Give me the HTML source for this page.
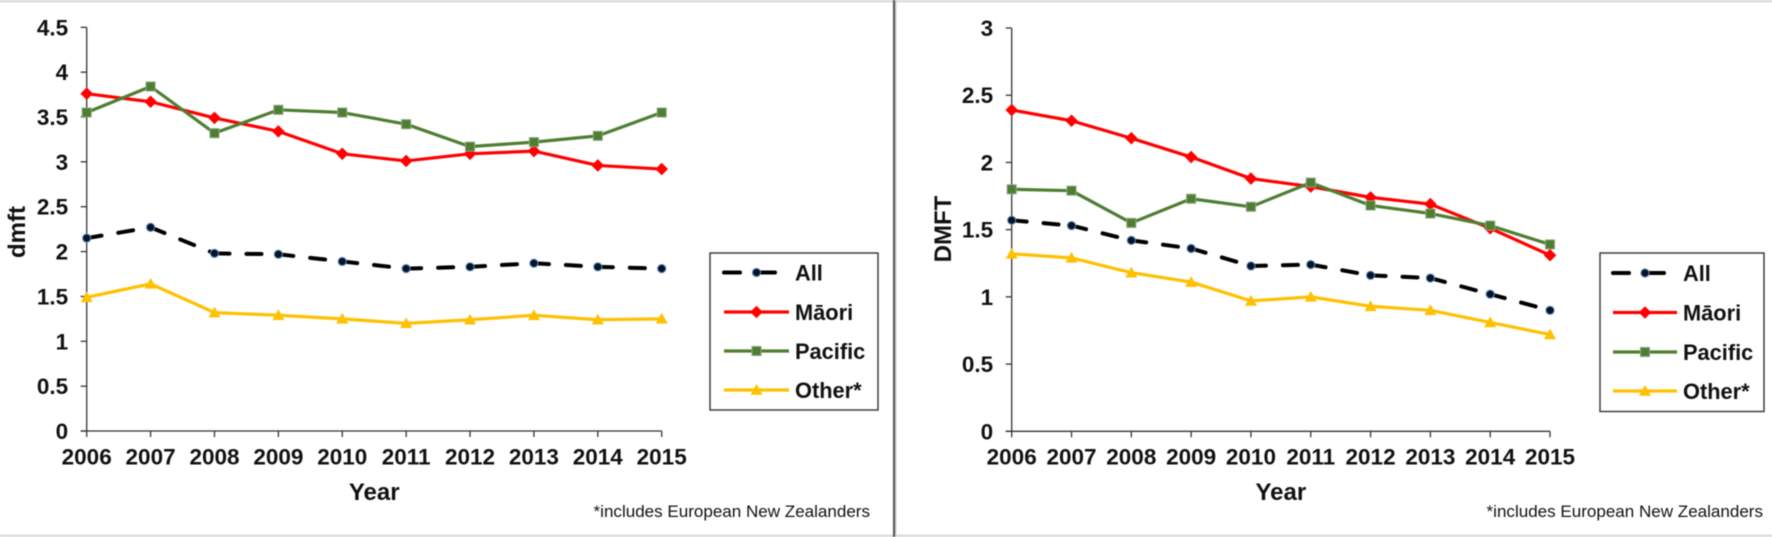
<!DOCTYPE html>
<html>
<head>
<meta charset="utf-8">
<title>dmft and DMFT by ethnicity, 2006-2015</title>
<style>
html,body{margin:0;padding:0;background:#fff;width:1772px;height:537px;overflow:hidden}
svg{display:block;filter:blur(0.45px)}
text{font-family:"Liberation Sans",sans-serif;fill:#111}
.b{font-weight:bold}
</style>
</head>
<body>
<svg id="chart" xmlns="http://www.w3.org/2000/svg" width="1772" height="537" viewBox="0 0 1772 537">
<rect x="0" y="0" width="1772" height="537" fill="#fff"/>
<rect x="0" y="0" width="1772" height="2.5" fill="#dcdcdc"/>
<rect x="0" y="534.5" width="1772" height="2.5" fill="#dcdcdc"/>
<rect x="893" y="0" width="2" height="537" fill="#555"/>
<rect x="895" y="0" width="1.5" height="537" fill="#ccc"/>
</svg>
<script>
var years = ['2006','2007','2008','2009','2010','2011','2012','2013','2014','2015'];
var seriesNames = ['All','Māori','Pacific','Other*'];

var leftTicks = ['0','0.5','1','1.5','2','2.5','3','3.5','4','4.5'];
var leftAll = [2.15,2.27,1.98,1.97,1.89,1.81,1.83,1.87,1.83,1.81];
var leftMaori = [3.76,3.67,3.49,3.34,3.09,3.01,3.09,3.12,2.96,2.92];
var leftPacific = [3.55,3.84,3.32,3.58,3.55,3.42,3.17,3.22,3.29,3.55];
var leftOther = [1.49,1.64,1.32,1.29,1.25,1.20,1.24,1.29,1.24,1.25];

var rightTicks = ['0','0.5','1','1.5','2','2.5','3'];
var rightAll = [1.57,1.53,1.42,1.36,1.23,1.24,1.16,1.14,1.02,0.90];
var rightMaori = [2.39,2.31,2.18,2.04,1.88,1.82,1.74,1.69,1.51,1.31];
var rightPacific = [1.80,1.79,1.55,1.73,1.67,1.85,1.68,1.62,1.53,1.39];
var rightOther = [1.32,1.29,1.18,1.11,0.97,1.00,0.93,0.90,0.81,0.72];

var NS = 'http://www.w3.org/2000/svg';
var svg = document.getElementById('chart');
var seriesColors = ['#000000','#ff0000','#4e7f31','#ffc000'];
var seriesKeys = ['all','maori','pacific','other'];

function make(parent, tag, attrs) {
  var el = document.createElementNS(NS, tag);
  for (var k in attrs) el.setAttribute(k, attrs[k]);
  parent.appendChild(el);
  return el;
}

function makeText(parent, str, x, y, size, anchor, bold) {
  var t = make(parent, 'text', {x: x, y: y, 'font-size': size, 'text-anchor': anchor});
  if (bold) t.setAttribute('class', 'b');
  t.textContent = str;
  return t;
}

function drawMarker(parent, idx, x, y) {
  var m;
  if (idx === 0) {
    m = make(parent, 'circle', {cx: x, cy: y, r: 4.1, fill: '#0a1428', stroke: '#5b8ec4', 'stroke-width': 1});
  } else if (idx === 1) {
    m = make(parent, 'polygon', {points: (x-6.3)+','+y+' '+x+','+(y-6.3)+' '+(x+6.3)+','+y+' '+x+','+(y+6.3), fill: '#ff0000'});
  } else if (idx === 2) {
    m = make(parent, 'rect', {x: x-4.6, y: y-4.6, width: 9.2, height: 9.2, fill: '#4e7f31', stroke: '#9aa893', 'stroke-width': 0.9});
  } else {
    m = make(parent, 'polygon', {points: (x-6)+','+(y+4.8)+' '+x+','+(y-6)+' '+(x+6)+','+(y+4.8), fill: '#ffc000'});
  }
  
  
}

function drawPanel(p) {
  var group = make(svg, 'g', {});
  
  

  function xScale(i) { return p.x0 + (p.x1 - p.x0) * i / (years.length - 1); }
  function yScale(v) { return p.y0 + (p.yTop - p.y0) * v / p.yMax; }

  var yAxis = make(group, 'line', {x1: p.x0, x2: p.x0, y1: yScale(p.yMax), y2: p.y0, stroke: '#333', 'stroke-width': 1.3});
  
  
  var xAxis = make(group, 'line', {x1: p.x0 - 6, x2: p.x1, y1: p.y0, y2: p.y0, stroke: '#333', 'stroke-width': 1.3});
  
  

  p.ticks.forEach(function (label) {
    var y = yScale(parseFloat(label));
    var tick = make(group, 'line', {x1: p.x0 - 6, x2: p.x0, y1: y, y2: y, stroke: '#333', 'stroke-width': 1.3});
    
    
    var t = makeText(group, label, p.x0 - 18.5, y + 8, 22.5, 'end', true);
    
    
  });

  years.forEach(function (label, i) {
    var x = xScale(i);
    var tick = make(group, 'line', {x1: x, x2: x, y1: p.y0, y2: p.y0 + 6, stroke: '#333', 'stroke-width': 1.3});
    
    
    var t = makeText(group, label, x, 464.5, 22.5, 'middle', true);
    
    
  });

  var yTitle = makeText(group, p.yTitle, 0, 0, 24, 'middle', true);
  yTitle.setAttribute('transform', 'translate(' + p.yTitleX + ',' + p.yTitleY + ') rotate(-90)');
  
  

  var xTitle = makeText(group, 'Year', (p.x0 + p.x1) / 2, 500, 24, 'middle', true);
  
  

  p.series.forEach(function (values, s) {
    var sg = make(group, 'g', {});
    
    
    for (var i = 0; i < values.length - 1; i++) {
      var seg = make(sg, 'line', {
        x1: xScale(i), y1: yScale(values[i]),
        x2: xScale(i + 1), y2: yScale(values[i + 1]),
        stroke: seriesColors[s], 'stroke-width': s === 0 ? 4 : 3.2
      });
      if (s === 0) {
        seg.setAttribute('stroke-dasharray', '15 17');
        seg.setAttribute('stroke-linecap', 'round');
      }
      
      
    }
    values.forEach(function (v, i) { drawMarker(sg, s, xScale(i), yScale(v)); });
  });

  var legend = make(group, 'g', {});
  
  
  var box = make(legend, 'rect', {x: p.lx, y: p.ly, width: p.lw, height: p.lh, fill: '#fff', stroke: '#333', 'stroke-width': 1.4});
  
  
  seriesNames.forEach(function (name, s) {
    var ey = p.legendY[s];
    var entry = make(legend, 'g', {});
    
    
    var sample = make(entry, 'line', {x1: p.sx0, x2: s === 0 ? p.sx0 + 51 : p.sx1, y1: ey, y2: ey, stroke: seriesColors[s], 'stroke-width': s === 0 ? 4 : 3.2});
    if (s === 0) {
      sample.setAttribute('stroke-dasharray', '16 17 18');
      sample.setAttribute('stroke-linecap', 'round');
    }
    
    
    drawMarker(entry, s, (p.sx0 + p.sx1) / 2, ey);
    var t = makeText(entry, name, p.tx, ey + 8, 21.8, 'start', true);
    
    
  });

  var note = makeText(group, '*includes European New Zealanders', p.noteX, 517, 17.05, 'end', false);
  note.setAttribute('fill', '#222');
  
  
}

drawPanel({
  name: 'dmft-chart', x0: 86.7, x1: 661.7, y0: 431, yTop: 27.3, yMax: 4.5, ticks: leftTicks,
  series: [leftAll, leftMaori, leftPacific, leftOther],
  yTitle: 'dmft', yTitleX: 25, yTitleY: 232,
  lx: 710, ly: 253, lw: 168, lh: 157, sx0: 724, sx1: 789, tx: 795,
  legendY: [272.5, 312, 351, 390], noteX: 870
});

drawPanel({
  name: 'dmft-permanent-chart', x0: 1011.7, x1: 1550, y0: 431.3, yTop: 28, yMax: 3, ticks: rightTicks,
  series: [rightAll, rightMaori, rightPacific, rightOther],
  yTitle: 'DMFT', yTitleX: 951, yTitleY: 229,
  lx: 1600, ly: 253, lw: 164, lh: 158.5, sx0: 1613, sx1: 1677, tx: 1683,
  legendY: [273, 312.5, 352, 391], noteX: 1763
});
</script>
</body>
</html>
